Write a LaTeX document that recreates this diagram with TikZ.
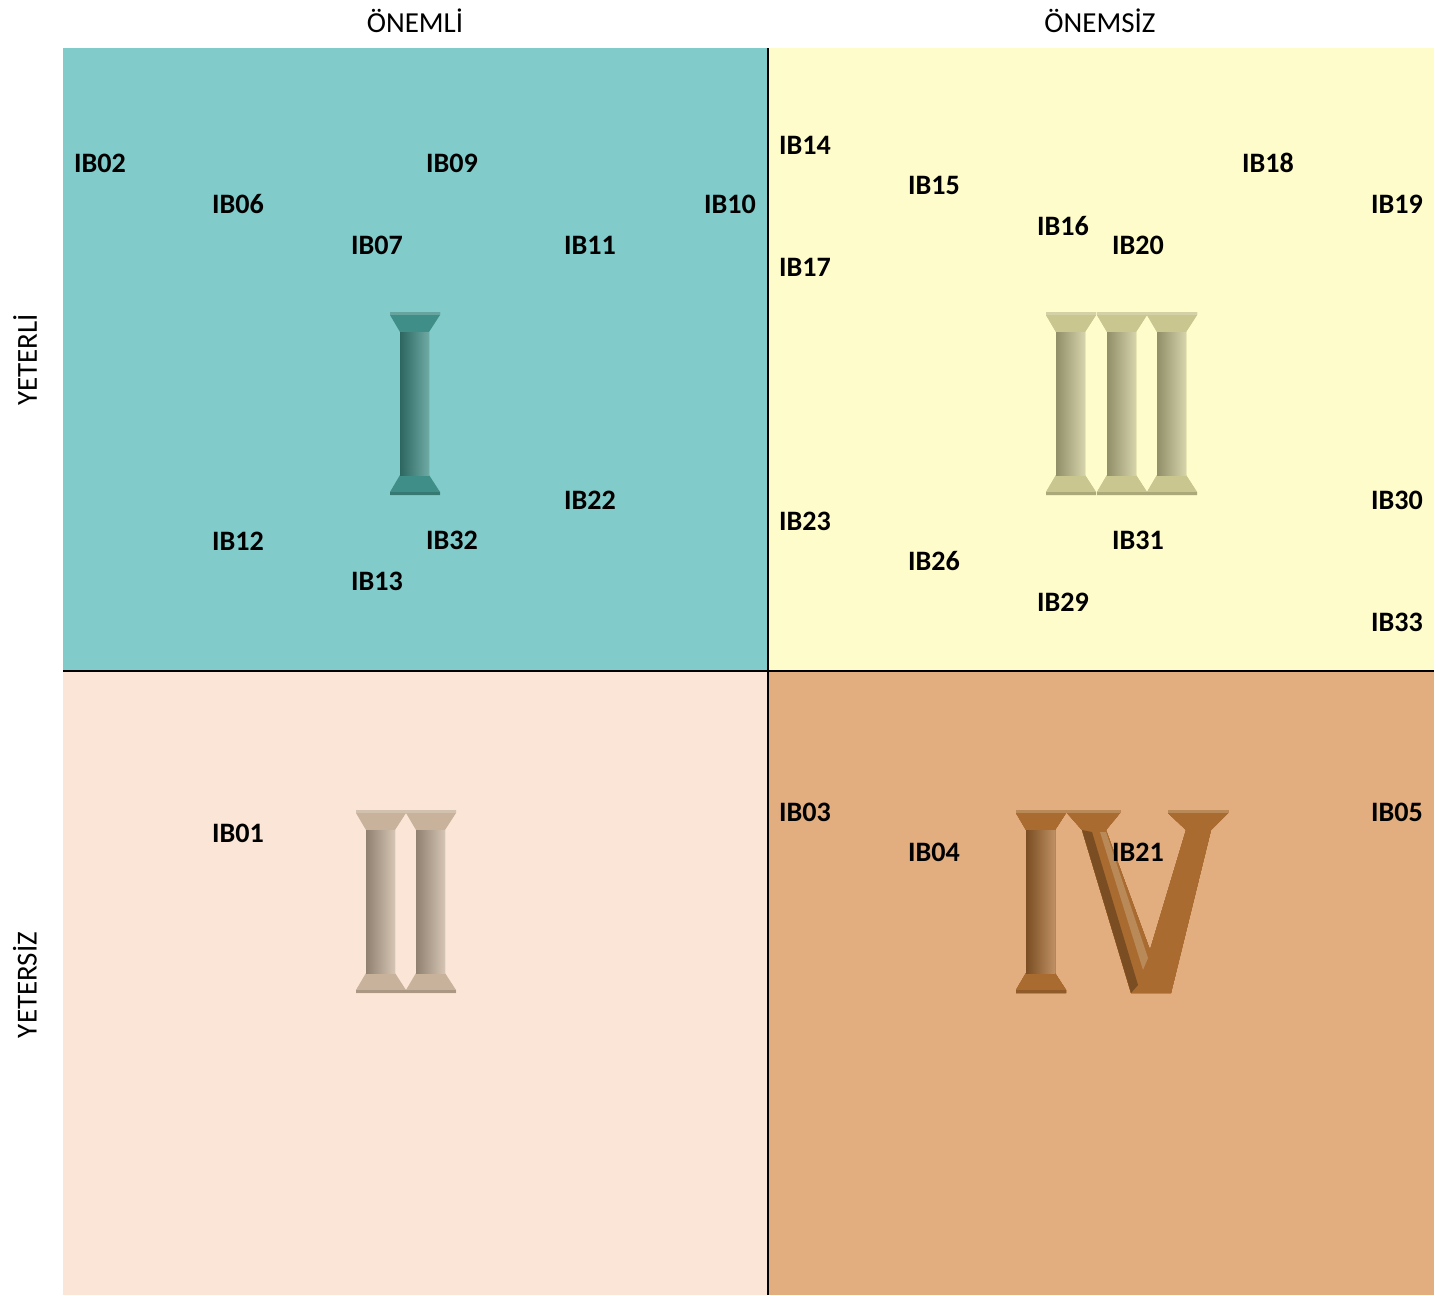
\documentclass[tikz,border=0pt]{standalone}
\usepackage{fontspec}
\setmainfont{Carlito}
\definecolor{qteal}{HTML}{81CBCB}
\definecolor{qyellow}{HTML}{FFFCCB}
\definecolor{qpeach}{HTML}{FBE5D6}
\definecolor{qorange}{HTML}{E2AD7F}
\definecolor{numI}{HTML}{3F8E87}
\definecolor{numII}{HTML}{C8B29B}
\definecolor{numIII}{HTML}{C9C690}
\definecolor{numIV}{HTML}{A96B2F}
\tikzset{
  lbl/.style={font=\fontsize{16}{19}\selectfont\bfseries, inner sep=0pt},
  hdr/.style={font=\fontsize{16.5}{19}\selectfont, inner sep=0pt},
  axisline/.style={line width=1.2pt, black}
}
% one column of a roman numeral: x, y of top left, colour
\newcommand{\romcol}[3]{%
  \fill[#3] (#1,#2) -- ++(50,0) -- ++(0,3) -- ++(-11,17) -- ++(0,143) -- ++(11,17) -- ++(0,3)
    -- ++(-50,0) -- ++(0,-3) -- ++(10,-17) -- ++(0,-143) -- ++(-10,-17) -- cycle;
  \shade[left color=#3!72!black, middle color=#3, right color=#3!75!white]
    (#1+10,#2+20) rectangle (#1+39,#2+163);
  \fill[#3!80!white] (#1,#2) -- ++(50,0) -- ++(0,3) -- ++(-50,0) -- cycle;
  \fill[#3!85!black] (#1,#2+180) -- ++(50,0) -- ++(0,3) -- ++(-50,0) -- cycle;
}
\begin{document}
\begin{tikzpicture}[x=0.02cm,y=-0.02cm]
  \useasboundingbox (0,0) rectangle (1436,1295);
  % quadrants
  \fill[qteal] (63,48) rectangle (768,671);
  \fill[qyellow] (768,48) rectangle (1434,671);
  \fill[qpeach] (63,671) rectangle (768,1295);
  \fill[qorange] (768,671) rectangle (1434,1295);
  % roman numerals
  \romcol{390}{312}{numI} % I
  \foreach \x in {356,406} \romcol{\x}{810}{numII} % II
  \foreach \x in {1046,1097,1147} \romcol{\x}{312}{numIII} % III
  \romcol{1016}{810}{numIV} % IV
  \fill[numIV] (1067,810) -- (1120,810) -- (1120,813) -- (1106,830) -- (1150,950) -- (1186,830)
    -- (1168,813) -- (1168,810) -- (1228,810) -- (1228,813) -- (1211,830) -- (1171,993)
    -- (1131,993) -- (1082,830) -- (1067,813) -- cycle;
  \fill[numIV!72!black] (1082,830) -- (1092,832) -- (1138,985) -- (1131,993) -- cycle;
  \fill[numIV!80!white] (1100,832) -- (1106,832) -- (1148,958) -- (1143,970) -- cycle;
  \fill[numIV!80!white] (1067,810) -- (1120,810) -- (1120,813) -- (1067,813) -- cycle;
  \fill[numIV!80!white] (1168,810) -- (1228,810) -- (1228,813) -- (1168,813) -- cycle;
  % axes
  \draw[axisline] (768,48) -- (768,1295);
  \draw[axisline] (63,671) -- (1434,671);
  % headers
  \node[hdr] (onemli) at (415,21) {ÖNEMLİ};
  \node[hdr] (onemsiz) at (1100,21) {ÖNEMSİZ};
  \node[hdr,rotate=90] (yeterli) at (25,360) {YETERLİ};
  \node[hdr,rotate=90] (yetersiz) at (25,985) {YETERSİZ};
  % items
  \foreach \n/\x/\y in {02/100/163, 06/238/204, 09/452/163, 07/377/245, 11/590/245, 10/730/204,
      22/590/500, 12/238/541, 32/452/540, 13/377/581,
      14/805/145, 15/934/185, 18/1268/163, 19/1397/204, 16/1063/226, 20/1138/245, 17/805/267,
      23/805/521, 26/934/561, 31/1138/540, 29/1063/602, 30/1397/500, 33/1397/622,
      01/238/833, 03/805/812, 04/934/852, 21/1138/852, 05/1397/812}
    \node[lbl] (ib\n) at (\x,\y) {IB\n};
\end{tikzpicture}
\end{document}
